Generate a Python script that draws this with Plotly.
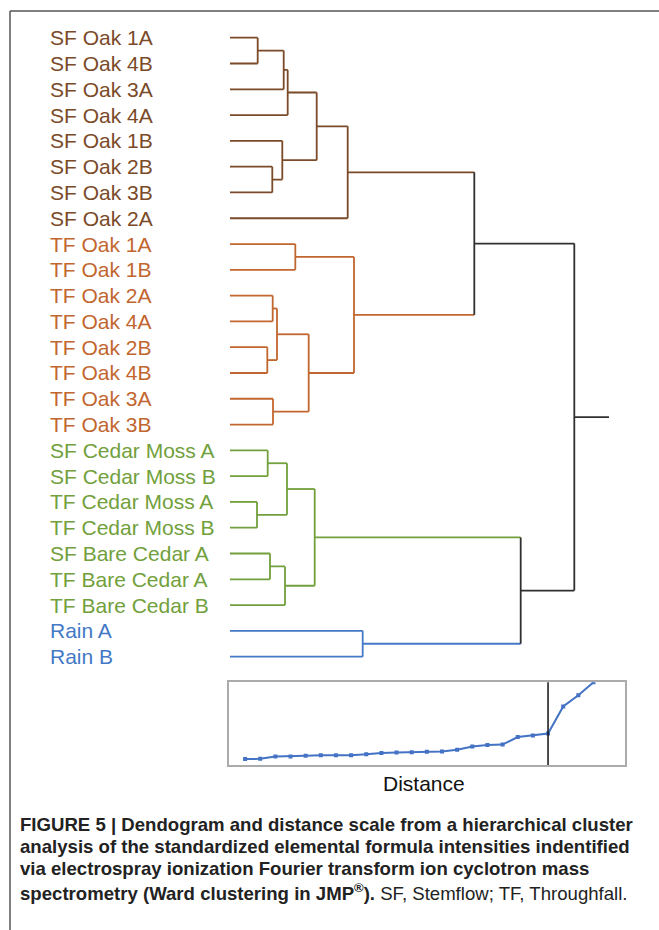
import plotly.graph_objects as go

W, H = 659, 930

# ---------------- data ----------------
leaf_labels = [
    "SF Oak 1A", "SF Oak 4B", "SF Oak 3A", "SF Oak 4A", "SF Oak 1B", "SF Oak 2B",
    "SF Oak 3B", "SF Oak 2A",
    "TF Oak 1A", "TF Oak 1B", "TF Oak 2A", "TF Oak 4A", "TF Oak 2B", "TF Oak 4B",
    "TF Oak 3A", "TF Oak 3B",
    "SF Cedar Moss A", "SF Cedar Moss B", "TF Cedar Moss A", "TF Cedar Moss B",
    "SF Bare Cedar A", "TF Bare Cedar A", "TF Bare Cedar B",
    "Rain A", "Rain B",
]
leaf_cluster = [0] * 8 + [1] * 8 + [2] * 7 + [3] * 2

# linkage (scipy style: node id >= n_leaves refers to merge id - n_leaves)
merge_left = [18, 0, 12, 16, 20, 5, 10, 14, 31, 4, 26, 29, 28, 35, 8, 33, 37, 38, 42, 39, 23, 43, 41, 46]
merge_right = [19, 1, 13, 17, 21, 6, 11, 15, 27, 30, 2, 22, 25, 3, 9, 32, 36, 34, 7, 40, 24, 44, 45, 47]
merge_distance = [27.0, 27.7, 37.3, 37.7, 40.0, 42.3, 42.7, 43.0, 47.0, 52.3, 53.7, 55.0,
                  57.0, 57.7, 65.3, 78.7, 84.7, 86.7, 117.7, 124.0, 132.7, 244.3, 290.7, 344.3]
n_clusters = 4

# ---------------- styles ----------------
cluster_colors = ["#7B4A28", "#C2662F", "#71A03C", "#4379C6"]
link_black = "#303030"
label_font = "Liberation Sans, Arial, sans-serif"
stub_len = 34.7

n = len(leaf_labels)
ypos = {i: float(i) for i in range(n)}
xpos = {i: 0.0 for i in range(n)}
members = {i: {leaf_cluster[i]} for i in range(n)}


def node_key(node):
    cl = members[node]
    return next(iter(cl)) if len(cl) == 1 else "k"


paths = {c: ([], []) for c in range(n_clusters)}
paths["k"] = ([], [])


def add_seg(key, xs_, ys_):
    xs, ys = paths[key]
    xs += list(xs_) + [None]
    ys += list(ys_) + [None]


for k, (a, b, h) in enumerate(zip(merge_left, merge_right, merge_distance)):
    nid = n + k
    members[nid] = members[a] | members[b]
    ypos[nid] = (ypos[a] + ypos[b]) / 2
    xpos[nid] = h
    # horizontal arms take the child's colour, the vertical takes the parent's
    add_seg(node_key(a), [xpos[a], h], [ypos[a], ypos[a]])
    add_seg(node_key(b), [xpos[b], h], [ypos[b], ypos[b]])
    add_seg(node_key(nid), [h, h], [ypos[a], ypos[b]])

root = n + len(merge_distance) - 1
add_seg(node_key(root), [xpos[root], xpos[root] + stub_len], [ypos[root], ypos[root]])

fig = go.Figure()
for key, (xs, ys) in paths.items():
    col = link_black if key == "k" else cluster_colors[key]
    fig.add_trace(go.Scatter(x=xs, y=ys, mode="lines", line=dict(color=col, width=1.8),
                             hoverinfo="skip", showlegend=False, xaxis="x", yaxis="y"))

# scree / distance plot
scree_x = list(range(len(merge_distance)))
fig.add_trace(go.Scatter(x=scree_x, y=merge_distance, mode="lines+markers",
                         line=dict(color="#4472C4", width=2),
                         marker=dict(symbol="square", size=4, color="#4472C4"),
                         showlegend=False, xaxis="x2", yaxis="y2", cliponaxis=True))


# geometry (pixels -> paper)
def px(x):
    return x / W


def py(y):
    return 1 - y / H


row_h = 25.79
top_row = 37.7
y_top = top_row - row_h / 2
y_bot = y_top + n * row_h

fig.update_layout(
    width=W, height=H, margin=dict(l=0, r=0, t=0, b=0),
    paper_bgcolor="white", plot_bgcolor="white",
    xaxis=dict(domain=[px(230), px(609)], range=[0, 379], visible=False),
    yaxis=dict(domain=[py(y_bot), py(y_top)], range=[n - 0.5, -0.5], visible=False),
    xaxis2=dict(domain=[px(229.3), px(625)], range=[-1.04, 25.08], anchor="y2",
                showticklabels=False, showgrid=False, zeroline=False, ticks="",
                showline=True, mirror=True, linecolor="#ABABAB", linewidth=1.5),
    yaxis2=dict(domain=[py(765), py(682.3)], range=[2.2, 344.3], anchor="x2",
                showticklabels=False, showgrid=False, zeroline=False, ticks="",
                showline=True, mirror=True, linecolor="#ABABAB", linewidth=1.5),
    font=dict(family=label_font),
)

# cut line in scree
cut_idx = n - n_clusters - 1
fig.add_shape(type="line", xref="x2", yref="y2 domain", x0=cut_idx, x1=cut_idx,
              y0=0, y1=1, line=dict(color="#111111", width=1.5))

# frame lines
fig.add_shape(type="line", xref="paper", yref="paper", x0=px(10), x1=1, y0=py(11), y1=py(11),
              line=dict(color="#555555", width=1.5))
fig.add_shape(type="line", xref="paper", yref="paper", x0=px(10), x1=px(10), y0=py(11), y1=0,
              line=dict(color="#555555", width=1.5))

# leaf labels
for i, lab in enumerate(leaf_labels):
    fig.add_annotation(text=lab, xref="paper", yref="y", x=px(48), y=i, xanchor="left",
                       yanchor="middle", showarrow=False,
                       font=dict(family=label_font, size=21, color=cluster_colors[leaf_cluster[i]]))

fig.add_annotation(text="Distance", xref="paper", yref="paper", x=px(424), y=py(783),
                   xanchor="center", yanchor="middle", showarrow=False,
                   font=dict(family=label_font, size=21, color="#111111"))

caption_lines = [
    "<b>FIGURE 5 | Dendogram and distance scale from a hierarchical cluster</b>",
    "<b>analysis of the standardized elemental formula intensities indentified</b>",
    "<b>via electrospray ionization Fourier transform ion cyclotron mass</b>",
    "<b>spectrometry (Ward clustering in JMP<sup>®</sup>).</b> SF, Stemflow; TF, Throughfall.",
]
caption_y = [824, 846, 868.5, 891.5]
for t, yy in zip(caption_lines, caption_y):
    fig.add_annotation(text=t, xref="paper", yref="paper", x=px(18), y=py(yy), xanchor="left",
                       yanchor="middle", showarrow=False, align="left",
                       font=dict(family=label_font, size=18.6, color="#222222"))

fig.write_html("out.html")
